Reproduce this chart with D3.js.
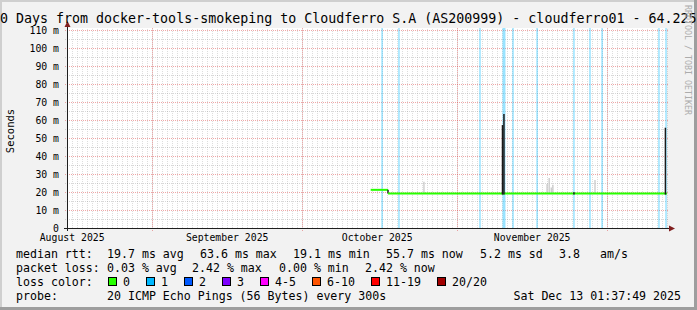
<!DOCTYPE html>
<html>
<head>
<meta charset="utf-8">
<script src="https://cdn.jsdelivr.net/npm/d3@7"></script>
<style>
  html, body { margin: 0; padding: 0; background: #f2f2f2; }
  svg { display: block; }
  text { font-family: "DejaVu Sans Mono", monospace; }
</style>
</head>
<body>
<div id="chartDiv"></div>
<script>
// ---- data ----
var titleText = "120 Days from docker-tools-smokeping to Cloudferro S.A (AS200999) - cloudferro01 - 64.225";
var rangeStart = "2025-08-15T01:37:49Z";
var rangeEnd = "2025-12-13T01:37:49Z";

var yTickValues = [0, 10, 20, 30, 40, 50, 60, 70, 80, 90, 100, 110];
var yTickLabels = ["0", "10 m", "20 m", "30 m", "40 m", "50 m", "60 m", "70 m", "80 m", "90 m", "100 m", "110 m"];
var monthLabels = ["August 2025", "September 2025", "October 2025", "November 2025"];
var monthLabelDates = ["2025-08-16", "2025-09-16", "2025-10-16", "2025-11-16"];

// median rtt (ms), step after each date
var medianDates = ["2025-10-14T19:20Z", "2025-10-18T06:30Z", "2025-12-13T01:30Z"];
var medianValues = [21.2, 19.1, 19.1];

// short dark spikes of the median
var spikeDates = ["2025-11-10T04:00Z", "2025-11-10T11:00Z", "2025-11-24T11:00Z", "2025-12-12T18:00Z"];
var spikeValues = [57.2, 63.3, 19.9, 55.7];

// grey smoke peaks
var smokeDates = ["2025-10-25T11:00Z", "2025-11-19T02:00Z", "2025-11-19T12:00Z", "2025-11-19T22:00Z", "2025-11-20T06:00Z", "2025-11-28T16:00Z"];
var smokeValues = [25.7, 24.5, 27.8, 22.5, 24.0, 26.7];

// light loss bars (1 of 20 lost)
var lossBarDates = ["2025-10-17T02:00Z", "2025-10-20T11:00Z", "2025-11-05T16:00Z", "2025-11-10T11:00Z",
                    "2025-11-12T06:30Z", "2025-11-17T02:00Z", "2025-11-24T11:00Z", "2025-11-27T16:00Z",
                    "2025-11-30T02:00Z", "2025-12-11T11:00Z", "2025-12-12T21:00Z"];
var lossBarWidths = [1.5, 1.5, 1.5, 3, 1.5, 1.5, 1.5, 1.5, 1.5, 1.5, 1.5];

var rttStats = ["19.7 ms avg", "63.6 ms max", "19.1 ms min", "55.7 ms now", "5.2 ms sd", "3.8", "am/s"];
var lossStats = ["0.03 % avg", "2.42 % max", "0.00 % min", "2.42 % now"];
var lossColorLabels = ["0", "1", "2", "3", "4-5", "6-10", "11-19", "20/20"];
var lossColors = ["#26ff00", "#00b8ff", "#0059ff", "#7e00ff", "#ff00ff", "#ff5500", "#ff0000", "#a10000"];
var probeText = "20 ICMP Echo Pings (56 Bytes) every 300s";
var stampText = "Sat Dec 13 01:37:49 2025";

// ---- layout ----
var W = 697, H = 310;
var plotL = 67, plotR = 667, plotT = 28, plotB = 228;
var rttCols = [107, 200, 293, 386, 480, 559, 600];
var lossCols = [107, 192, 279, 365];

var parse = function (s) { return new Date(s.length == 10 ? s + "T00:00:00Z" : s); };

var svg = d3.select('#chartDiv').append('svg')
  .attr('width', W).attr('height', H);

// background + rrd style frame
svg.append('rect').attr('width', W).attr('height', H).attr('fill', '#f2f2f2');
svg.append('path').attr('d', 'M0,0H' + W + 'V2H2V' + H + 'H0Z').attr('fill', '#cfcfcf');
svg.append('path').attr('d', 'M' + W + ',0V' + H + 'H0V' + (H - 3) + 'H' + (W - 3) + 'V0Z').attr('fill', '#9e9e9e');

var x = d3.scaleUtc().domain([parse(rangeStart), parse(rangeEnd)]).range([plotL, plotR]);
var y = d3.scaleLinear().domain([0, 111.1]).range([plotB, plotT]);

svg.append('rect').attr('x', plotL).attr('y', plotT)
  .attr('width', plotR - plotL).attr('height', plotB - plotT).attr('fill', '#ffffff');

var grid = svg.append('g');
// minor grid: days and 5 ms
d3.utcDay.range(x.domain()[0], x.domain()[1]).forEach(function (d) {
  grid.append('line').attr('x1', Math.round(x(d)) + 0.5).attr('x2', Math.round(x(d)) + 0.5).attr('y1', plotB).attr('y2', plotT)
    .attr('stroke', '#8f8f8f').attr('stroke-opacity', 0.3).attr('stroke-dasharray', '1,1');
});
d3.range(5, 111, 10).forEach(function (v) {
  grid.append('line').attr('x1', plotL - 2).attr('x2', plotR + 2).attr('y1', Math.round(y(v)) + 0.5).attr('y2', Math.round(y(v)) + 0.5)
    .attr('stroke', '#8f8f8f').attr('stroke-opacity', 0.35).attr('stroke-dasharray', '1,1');
});
// major grid: months and 10 ms
d3.utcMonth.range(x.domain()[0], x.domain()[1]).forEach(function (d) {
  grid.append('line').attr('x1', Math.round(x(d)) + 0.5).attr('x2', Math.round(x(d)) + 0.5).attr('y1', plotB + 3).attr('y2', plotT)
    .attr('stroke', '#de4f4f').attr('stroke-opacity', 0.5).attr('stroke-dasharray', '1,1');
});
yTickValues.slice(1).forEach(function (v) {
  grid.append('line').attr('x1', plotL - 2).attr('x2', plotR + 2).attr('y1', Math.round(y(v)) + 0.5).attr('y2', Math.round(y(v)) + 0.5)
    .attr('stroke', '#de4f4f').attr('stroke-opacity', 0.5).attr('stroke-dasharray', '1,1');
});

// loss bars
svg.append('g').selectAll('line').data(lossBarDates).enter().append('line')
  .attr('x1', function (d) { return x(parse(d)); })
  .attr('x2', function (d) { return x(parse(d)); })
  .attr('y1', plotB).attr('y2', plotT)
  .attr('stroke', lossColors[1]).attr('stroke-opacity', 0.4)
  .attr('stroke-width', function (d, i) { return lossBarWidths[i]; });

// smoke
svg.append('g').selectAll('line').data(smokeDates).enter().append('line')
  .attr('x1', function (d) { return x(parse(d)); })
  .attr('x2', function (d) { return x(parse(d)); })
  .attr('y1', y(19.1)).attr('y2', function (d, i) { return y(smokeValues[i]); })
  .attr('stroke', '#c4c4c4').attr('stroke-width', 1.2);

// median line, green steps with dark connectors
var med = svg.append('g');
for (var i = 0; i < medianDates.length - 1; i++) {
  var x0 = x(parse(medianDates[i])), x1 = x(parse(medianDates[i + 1]));
  med.append('line').attr('x1', x0).attr('x2', x1)
    .attr('y1', y(medianValues[i])).attr('y2', y(medianValues[i]))
    .attr('stroke', lossColors[0]).attr('stroke-width', 2);
  if (i < medianDates.length - 2 && medianValues[i] != medianValues[i + 1]) {
    med.append('line').attr('x1', x1).attr('x2', x1)
      .attr('y1', y(medianValues[i])).attr('y2', y(medianValues[i + 1]))
      .attr('stroke', '#222').attr('stroke-width', 1.5);
  }
}
med.selectAll('.spike').data(spikeDates).enter().append('line')
  .attr('class', 'spike')
  .attr('x1', function (d) { return x(parse(d)); })
  .attr('x2', function (d) { return x(parse(d)); })
  .attr('y1', y(19.1) + 1).attr('y2', function (d, i) { return y(spikeValues[i]); })
  .attr('stroke', '#1a1a1a').attr('stroke-width', 1.5);

// axes
var yAxis = d3.axisLeft(y).tickValues(yTickValues)
  .tickFormat(function (d, i) { return yTickLabels[i]; })
  .tickSize(0).tickPadding(8);
var gy = svg.append('g').attr('transform', 'translate(' + plotL + ',0)').call(yAxis);
gy.select('.domain').remove();
gy.selectAll('text').attr('font-size', '9.8px').attr('font-family', 'DejaVu Sans Mono').attr('fill', '#000');

var xAxis = d3.axisBottom(x).tickValues(monthLabelDates.map(parse))
  .tickFormat(function (d, i) { return monthLabels[i]; })
  .tickSize(0).tickPadding(6);
var gx = svg.append('g').attr('transform', 'translate(0,' + plotB + ')').call(xAxis);
gx.select('.domain').remove();
gx.selectAll('text').attr('font-size', '9.8px').attr('font-family', 'DejaVu Sans Mono').attr('fill', '#000');

svg.append('line').attr('x1', plotL - 3).attr('x2', plotR + 3).attr('y1', plotB + 0.5).attr('y2', plotB + 0.5)
  .attr('stroke', '#1f1f1f').attr('stroke-width', 1);
svg.append('line').attr('x1', plotL + 0.5).attr('x2', plotL + 0.5).attr('y1', plotB + 3).attr('y2', plotT - 1)
  .attr('stroke', '#1f1f1f').attr('stroke-width', 1);
svg.append('path').attr('d', 'M' + (plotR + 2) + ',' + (plotB - 2.5) + 'L' + (plotR + 8) + ',' + (plotB + 0.5) + 'L' + (plotR + 2) + ',' + (plotB + 3.5) + 'Z')
  .attr('fill', '#801f1f');
svg.append('path').attr('d', 'M' + (plotL - 2.5) + ',' + (plotT - 1) + 'L' + (plotL + 0.5) + ',' + (plotT - 7) + 'L' + (plotL + 3.5) + ',' + (plotT - 1) + 'Z')
  .attr('fill', '#801f1f');

// title, vertical label, watermark
svg.append('text').attr('x', -16).attr('y', 23).attr('font-size', '13.3px').attr('fill', '#000').text(titleText);
svg.append('text').attr('transform', 'translate(14,' + ((plotT + plotB) / 2 + 3) + ') rotate(-90)')
  .attr('text-anchor', 'middle').attr('font-size', '10.5px').attr('fill', '#000').text('Seconds');
svg.append('text').attr('transform', 'translate(685,5) rotate(90)')
  .attr('font-size', '8.3px').attr('fill', '#acacac').text('RRDTOOL / TOBI OETIKER');

// legend
var leg = svg.append('g').attr('font-size', '11.6px').attr('fill', '#000');
leg.append('text').attr('x', 16).attr('y', 258).text('median rtt:');
rttStats.forEach(function (s, i) { leg.append('text').attr('x', rttCols[i]).attr('y', 258).text(s); });
leg.append('text').attr('x', 16).attr('y', 272).text('packet loss:');
lossStats.forEach(function (s, i) { leg.append('text').attr('x', lossCols[i]).attr('y', 272).text(s); });
leg.append('text').attr('x', 16).attr('y', 286).text('loss color:');
var bx = 108;
lossColorLabels.forEach(function (s, i) {
  leg.append('rect').attr('x', bx + 0.5).attr('y', 277.5).attr('width', 8).attr('height', 8)
    .attr('fill', lossColors[i]).attr('stroke', '#000').attr('stroke-width', 1);
  leg.append('text').attr('x', bx + 15).attr('y', 286).text(s);
  bx = bx + 15 + s.length * 7 + 16;
});
leg.append('text').attr('x', 16).attr('y', 300).text('probe:');
leg.append('text').attr('x', 107).attr('y', 300).text(probeText);
leg.append('text').attr('x', 681).attr('y', 300).attr('text-anchor', 'end').text(stampText);
</script>
</body>
</html>
